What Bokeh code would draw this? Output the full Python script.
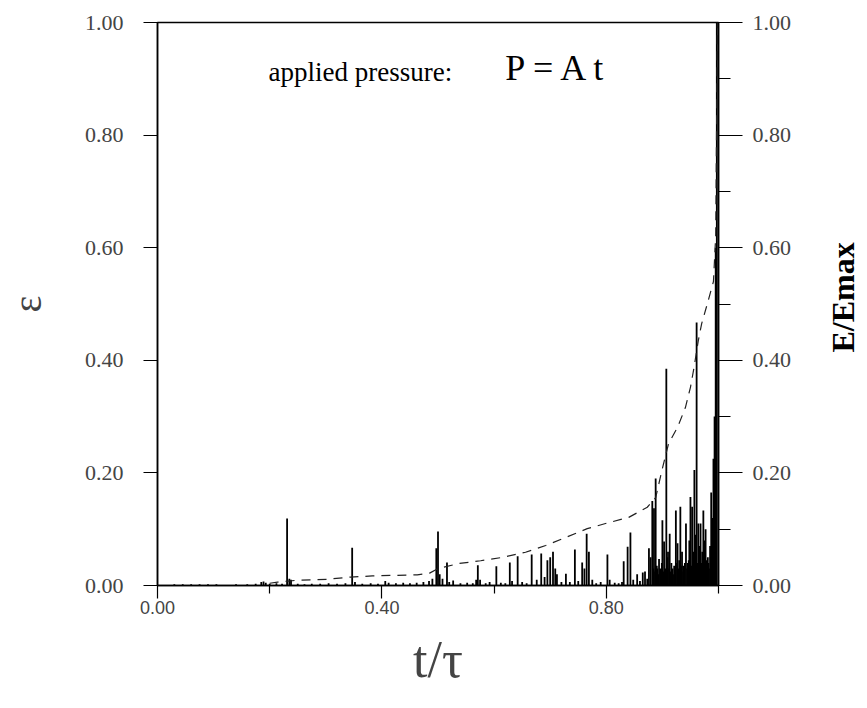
from math import pi
from bokeh.plotting import figure
from bokeh.layouts import row
from bokeh.models import (Range1d, LinearAxis, FixedTicker, PrintfTickFormatter,
                          ColumnDataSource, Label)
from bokeh.core.properties import value
from bokeh.embed import file_html
from bokeh.resources import INLINE

# ---- data ----
x_ticks = [0.0, 0.4, 0.8]
x_minor = [0.2, 0.6, 1.0]
y_ticks = [0.0, 0.2, 0.4, 0.6, 0.8, 1.0]
y_minor_right = [0.1, 0.3, 0.5, 0.7, 0.9]

# strain curve epsilon(t/tau) (dashed)
eps_t = [0.200, 0.214, 0.246, 0.303, 0.344, 0.383, 0.422, 0.463, 0.485, 0.500,
         0.537, 0.576, 0.615, 0.656, 0.692, 0.727, 0.766, 0.802, 0.840, 0.873,
         0.888, 0.900, 0.911, 0.927, 0.941, 0.950, 0.956, 0.964, 0.970, 0.980,
         0.991, 0.995, 0.998]
eps_v = [0.004, 0.006, 0.009, 0.011, 0.015, 0.017, 0.018, 0.019, 0.022, 0.030,
         0.039, 0.044, 0.050, 0.059, 0.071, 0.085, 0.101, 0.111, 0.121, 0.139,
         0.156, 0.208, 0.252, 0.281, 0.316, 0.352, 0.385, 0.435, 0.465, 0.500,
         0.540, 0.620, 1.000]

# energy release spikes E/Emax
spike_t = [0.030, 0.045, 0.060, 0.075, 0.090, 0.105, 0.120, 0.140, 0.160, 0.175,
           0.185, 0.189, 0.193, 0.200, 0.212, 0.222, 0.231, 0.235, 0.238, 0.250,
           0.262, 0.275, 0.290, 0.305, 0.320, 0.335, 0.347, 0.352, 0.365, 0.380,
           0.393, 0.406, 0.412, 0.425, 0.438, 0.450, 0.462, 0.474, 0.484, 0.490,
           0.497, 0.500, 0.503, 0.508, 0.516, 0.520, 0.527, 0.540, 0.552, 0.562,
           0.568, 0.571, 0.575, 0.585, 0.592, 0.604, 0.612, 0.620, 0.628, 0.632,
           0.642, 0.650, 0.658, 0.667, 0.676, 0.684, 0.690, 0.695, 0.700, 0.705,
           0.709, 0.712, 0.720, 0.728, 0.735, 0.744, 0.750, 0.757, 0.761, 0.765,
           0.769, 0.775, 0.782, 0.790, 0.802, 0.806, 0.815, 0.822, 0.828, 0.831,
           0.838, 0.843, 0.848, 0.855, 0.860, 0.865, 0.869, 0.873, 0.876, 0.879,
           0.882, 0.885, 0.888, 0.891, 0.894, 0.897, 0.900, 0.903, 0.907, 0.910,
           0.913, 0.916, 0.919, 0.922, 0.924, 0.927, 0.930, 0.932, 0.935, 0.938,
           0.942, 0.945, 0.948, 0.950, 0.953, 0.955, 0.957, 0.959, 0.961, 0.964,
           0.966, 0.968, 0.971, 0.973, 0.975, 0.977, 0.979, 0.981, 0.983, 0.985,
           0.987, 0.989, 0.991, 0.993, 0.995, 0.997,
           0.884, 0.887, 0.890, 0.893, 0.896, 0.899, 0.902, 0.905, 0.909, 0.912,
           0.915, 0.918, 0.921, 0.926, 0.929, 0.934, 0.937, 0.940, 0.944, 0.947,
           0.952, 0.956, 0.963, 0.967, 0.970, 0.974, 0.978, 0.982, 0.986, 0.990]
spike_e = [0.002, 0.002, 0.002, 0.002, 0.002, 0.002, 0.001, 0.002, 0.002, 0.003,
           0.006, 0.007, 0.005, 0.003, 0.004, 0.003, 0.119, 0.012, 0.010, 0.003,
           0.002, 0.003, 0.003, 0.004, 0.003, 0.004, 0.067, 0.006, 0.003, 0.004,
           0.003, 0.008, 0.005, 0.004, 0.005, 0.004, 0.005, 0.006, 0.008, 0.012,
           0.066, 0.096, 0.020, 0.012, 0.041, 0.006, 0.009, 0.004, 0.005, 0.004,
           0.010, 0.036, 0.010, 0.004, 0.006, 0.034, 0.005, 0.004, 0.041, 0.008,
           0.052, 0.006, 0.004, 0.055, 0.010, 0.057, 0.015, 0.045, 0.050, 0.060,
           0.030, 0.020, 0.006, 0.021, 0.006, 0.064, 0.008, 0.041, 0.030, 0.092,
           0.060, 0.010, 0.004, 0.006, 0.055, 0.010, 0.005, 0.004, 0.006, 0.043,
           0.069, 0.094, 0.010, 0.020, 0.008, 0.023, 0.025, 0.012, 0.066, 0.050,
           0.150, 0.137, 0.190, 0.030, 0.047, 0.025, 0.116, 0.078, 0.385, 0.060,
           0.092, 0.040, 0.020, 0.030, 0.133, 0.075, 0.045, 0.140, 0.060, 0.035,
           0.110, 0.040, 0.080, 0.157, 0.140, 0.060, 0.205, 0.090, 0.467, 0.110,
           0.070, 0.110, 0.060, 0.133, 0.080, 0.100, 0.040, 0.050, 0.030, 0.070,
           0.165, 0.120, 0.225, 0.300, 0.600, 1.000,
           0.030, 0.025, 0.035, 0.020, 0.030, 0.040, 0.025, 0.030, 0.050, 0.030,
           0.025, 0.030, 0.035, 0.040, 0.030, 0.035, 0.025, 0.040, 0.030, 0.045,
           0.035, 0.050, 0.040, 0.045, 0.040, 0.050, 0.045, 0.040, 0.050, 0.060]

right_title = ["E/Emax"]

SERIF = "Liberation Serif"
SANS = "Liberation Sans"

p = figure(width=810, height=708, output_backend="svg", toolbar_location=None,
           x_range=Range1d(0, 1), y_range=Range1d(0, 1),
           x_axis_location=None, y_axis_location=None,
           min_border_left=157, min_border_right=92,
           min_border_top=22, min_border_bottom=123)
p.extra_y_ranges = {"E": Range1d(0, 1)}
p.xgrid.visible = False
p.ygrid.visible = False
p.outline_line_color = "black"
p.outline_line_width = 1.5
p.background_fill_color = "white"
p.border_fill_color = "white"

# left axis (epsilon)
ly = LinearAxis(ticker=FixedTicker(ticks=y_ticks, minor_ticks=[]),
                formatter=PrintfTickFormatter(format="%.2f"))
ly.axis_label = "ε"
ly.axis_label_text_font = SERIF
ly.axis_label_text_font_size = "40px"
ly.axis_label_text_font_style = "normal"
ly.axis_label_standoff = 32
ly.major_label_text_font = SERIF
ly.major_label_text_font_size = "22px"
ly.major_tick_out = 14
ly.major_tick_in = 0
ly.minor_tick_out = 0
ly.major_label_standoff = 20
ly.axis_line_width = 1.5
ly.major_tick_line_width = 1.2
p.add_layout(ly, "left")

# right axis (E/Emax)
ry = LinearAxis(y_range_name="E",
                ticker=FixedTicker(ticks=y_ticks, minor_ticks=y_minor_right),
                formatter=PrintfTickFormatter(format="%.2f"))
ry.major_label_text_font = SERIF
ry.major_label_text_font_size = "22px"
ry.major_tick_out = 24
ry.major_tick_in = 0
ry.minor_tick_out = 12
ry.minor_tick_in = 0
ry.major_label_standoff = 10
ry.axis_line_width = 1.5
ry.major_tick_line_width = 1.2
ry.minor_tick_line_width = 1.2
p.add_layout(ry, "right")

# bottom axis (t/tau)
bx = LinearAxis(ticker=FixedTicker(ticks=x_ticks, minor_ticks=x_minor),
                formatter=PrintfTickFormatter(format="%.2f"))
bx.axis_label = "t/τ"
bx.axis_label_text_font = SERIF
bx.axis_label_text_font_size = "52px"
bx.axis_label_text_font_style = "normal"
bx.axis_label_standoff = 14
bx.major_label_text_font = SANS
bx.major_label_text_font_size = "18px"
bx.major_label_text_font_style = "normal"
bx.major_tick_out = 13
bx.major_tick_in = 0
bx.minor_tick_out = 8
bx.minor_tick_in = 0
bx.major_label_standoff = 2
bx.axis_line_width = 1.5
bx.major_tick_line_width = 1.2
bx.minor_tick_line_width = 1.2
p.add_layout(bx, "below")

# spikes
src = ColumnDataSource(dict(t=spike_t, e=spike_e, z=[0] * len(spike_t)))
p.segment(x0="t", y0="z", x1="t", y1="e", source=src, y_range_name="E",
          line_color="black", line_width=1.8)

# strain curve
p.line(eps_t, eps_v, line_color="#222222", line_width=1.2, line_dash="9 7")

# annotation
p.add_layout(Label(x=0.198, y=0.885, text="applied pressure:",
                   text_font=SERIF, text_font_size="27px", text_color="black"))
p.add_layout(Label(x=0.620, y=0.883, text="P = A t",
                   text_font=SERIF, text_font_size="36px", text_color="black"))

# narrow side panel carrying the right-hand axis title (reads bottom-to-top)
side = figure(width=57, height=708, output_backend="svg", toolbar_location=None,
              x_range=Range1d(0, 57), y_range=Range1d(0, 708),
              x_axis_location=None, y_axis_location=None,
              min_border=0, outline_line_color=None)
side.xgrid.visible = False
side.ygrid.visible = False
side.text(x=[32], y=[293], text=right_title, angle=pi / 2,
          text_align="left", text_baseline="middle",
          text_font=value(SERIF), text_font_size="32px",
          text_font_style="bold", text_color="black")

layout = row(p, side, spacing=0)
open("out.html", "w").write(file_html(layout, INLINE))
